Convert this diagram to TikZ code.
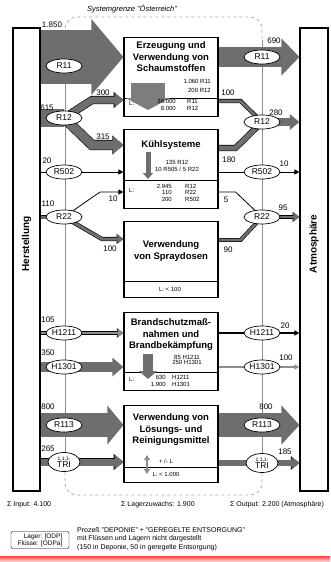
\documentclass[tikz,border=0pt]{standalone}
\usepackage{fontspec}
\setmainfont{Liberation Sans}
\usetikzlibrary{arrows.meta,shapes.geometric,backgrounds}
\definecolor{flowgray}{HTML}{6E6E6E}
\definecolor{linegray}{HTML}{8E8E8E}
\definecolor{dashgray}{HTML}{A8A8A8}

\begin{document}
\begin{tikzpicture}[x=1pt,y=-1pt,
    procbox/.style={draw, line width=1.1pt, minimum width=94pt, anchor=north, inner sep=0pt},
    sidebox/.style={draw, line width=1.1pt, minimum width=27pt, minimum height=463pt, inner sep=0pt},
    sidename/.style={rotate=90, font=\fontsize{10}{10}\selectfont\bfseries},
    subst/.style={ellipse, draw, fill=white, line width=0.7pt, minimum width=36pt, minimum height=14pt, inner sep=0pt, font=\fontsize{8.5}{9}\selectfont},
    boxtitle/.style={align=center, font=\fontsize{9.5}{11.5}\selectfont\bfseries},
    small/.style={font=\fontsize{6}{6.5}\selectfont, inner sep=0pt},
    flownum/.style={font=\fontsize{8}{8}\selectfont, inner sep=0pt},
    foottext/.style={font=\fontsize{7}{8.5}\selectfont, inner sep=0pt},
    stream/.style={draw=flowgray, line width=#1},
    rimstream/.style={preaction={draw=black, line width=#1+1.2pt}, draw=flowgray, line width=#1},
    wire/.style={draw=black, line width=0.8pt},
    flowtip/.style={-{Triangle[width=4pt 1.4, length=4pt 0.7]}},
    wiretip/.style={-{Triangle[width=5pt, length=5pt]}}]
  \useasboundingbox (0,0) rectangle (330,562);

  % Systemgrenze
  \node[font=\fontsize{7.5}{8}\selectfont\itshape] (sysname) at (132,9) {Systemgrenze "Österreich"};

  % Herstellung, Atmosphaere
  \node[sidebox] (herst) at (26.5,259.5) {};
  \node[sidebox, minimum width=28pt] (atmo) at (314,259.5) {};
  \node[sidename] (herstname) at (herst |- 0,244) {Herstellung};
  \node[sidename] (atmoname) at (atmo |- 0,244) {Atmosphäre};

  % Prozesse
  \node[procbox, minimum height=79pt] (erz) at (171,37) {};
  \node[procbox, minimum height=79pt] (kuehl) at (171,129) {};
  \node[procbox, minimum height=76pt] (spray) at (171,221) {};
  \node[procbox, minimum height=78pt] (brand) at (171,312) {};
  \node[procbox, minimum height=77pt] (loes) at (171,405) {};
  \draw[line width=0.8pt] (erz.west |- 0,98) -- (erz.east |- 0,98);
  \draw[line width=0.8pt] (kuehl.west |- 0,180) -- (kuehl.east |- 0,180);
  \draw[line width=0.8pt] (spray.west |- 0,281) -- (spray.east |- 0,281);
  \draw[line width=0.8pt] (brand.west |- 0,372) -- (brand.east |- 0,372);
  \draw[line width=0.8pt] (loes.west |- 0,467) -- (loes.east |- 0,467);

  \node[boxtitle] (erztitle) at (171,57) {Erzeugung und\\Verwendung von\\Schaumstoffen};
  \node[boxtitle] (kuehltitle) at (171,145) {Kühlsysteme};
  \node[boxtitle] (spraytitle) at (171,251) {Verwendung\\von Spraydosen};
  \node[boxtitle] (brandtitle) at (171,335) {Brandschutzmaß-\\nahmen und\\Brandbekämpfung};
  \node[boxtitle] (loestitle) at (171,430) {Verwendung von\\Lösungs- und\\Reinigungsmittel};

  % Lageraenderung
  \draw[stream=34pt, draw=flowgray!90, -{Triangle[width=44pt, length=12pt]}] (148,83) -- (148,110);
  \draw[stream=5pt, -{Triangle[width=10pt, length=6pt]}] (148,152) -- (148,179);
  \draw[stream=10pt, -{Triangle[width=18pt, length=8pt]}] (148,354) -- (148,379);
  \draw[linegray, line width=1.5pt, {Triangle[width=6pt, length=5pt]}-{Triangle[width=6pt, length=5pt]}] (147,455) -- (147,474);

  \node[small, anchor=east, align=right] (erzflow) at (211,86) {1.060 R11\\[2.5pt]200 R12};
  \node[small, anchor=west] (erzL) at (129,103) {L:};
  \node[small, anchor=east, align=right] (erzlagn) at (176,105) {36.000\\8.000};
  \node[small, anchor=west, align=left] (erzlags) at (187,105) {R11\\R12};

  \node[small, align=center] (kuehlflow) at (177,166) {135 R12\\10 R505 / 5 R22};
  \node[small, anchor=west] (kuehlL) at (129,190) {L:};
  \node[small, anchor=east, align=right] (kuehllagn) at (172,192.5) {2.945\\110\\200};
  \node[small, anchor=west, align=left] (kuehllags) at (185,192.5) {R12\\R22\\R502};

  \node[small] (sprayL) at (170,289) {L: < 100};

  \node[small, align=center, font=\fontsize{6}{5}\selectfont] (brandflow) at (187,360) {85 H1211\\250 H1301};
  \node[small, anchor=west] (brandL) at (129,379) {L:};
  \node[small, anchor=east, align=right] (brandlagn) at (166,381) {630\\1.900};
  \node[small, anchor=west, align=left] (brandlags) at (172,381) {H1211\\H1301};

  \node[small] (loesdelta) at (166,461) {+ /- L};
  \node[small] (loesL) at (166,474) {L: < 1.000};

  % Stoffe
  \node[subst] (r11a) at (64,66) {R11};
  \node[subst] (r12a) at (64,118) {R12};
  \node[subst] (r502a) at (64,172) {R502};
  \node[subst] (r22a) at (64,217) {R22};
  \node[subst] (h1211a) at (64,333) {H1211};
  \node[subst] (h1301a) at (64,367) {H1301};
  \node[subst] (r113a) at (64,425) {R113};
  \node[subst, minimum width=32pt, minimum height=19pt, align=center] (tria) at (64,462) {{\fontsize{5}{5}\selectfont 1,1,1-}\\[-2pt]TRI};
  \node[subst] (r11b) at (262,57) {R11};
  \node[subst] (r12b) at (262,122) {R12};
  \node[subst] (r502b) at (262,172) {R502};
  \node[subst] (r22b) at (262,217) {R22};
  \node[subst] (h1211b) at (262,333) {H1211};
  \node[subst] (h1301b) at (262,367) {H1301};
  \node[subst] (r113b) at (262,425) {R113};
  \node[subst, minimum width=32pt, minimum height=19pt, align=center] (trib) at (262,463) {{\fontsize{5}{5}\selectfont 1,1,1-}\\[-2pt]TRI};

  \begin{pgfonlayer}{background}
    \draw[linegray, line width=0.8pt] (65,40) -- (65,472);
    \draw[linegray, line width=0.8pt] (262,40) -- (262,472);
    \draw[dashgray, line width=0.8pt, dashed, rounded corners=12pt] (65,40) |- (262,17) -- (262,40);
    \draw[dashgray, line width=0.8pt, dashed, rounded corners=12pt] (65,472) |- (262,495) -- (262,472);

    % Zufluesse
    \draw[stream=54pt, -{Triangle[width=74pt, length=32pt]}] (herst.east |- 0,57) -- (erz.west |- 0,57);
    \draw[stream=18pt] (herst.east |- r12a) -- (r12a.center);
    \draw[rimstream=7pt, flowtip] (r12a.center) -- ++(28,-18) -- (erz.west |- 0,100);
    \draw[rimstream=9pt, flowtip] (r12a.center) -- ++(28,27) -- (kuehl.west |- 0,145);
    \draw[wire, wiretip] (herst.east |- r502a) -- (kuehl.west |- r502a);
    \draw[rimstream=3pt] (herst.east |- r22a) -- (r22a.center);
    \draw[wire, wiretip] (r22a.center) -- ++(36,-25) -- (kuehl.west |- 0,192);
    \draw[rimstream=3pt, flowtip] (r22a.center) -- ++(38,22) -- (spray.west |- 0,239);
    \draw[rimstream=2.5pt, draw=linegray, flowtip] (herst.east |- h1211a) -- (brand.west |- h1211a);
    \draw[stream=10pt, flowtip] (herst.east |- h1301a) -- (brand.west |- h1301a);
    \draw[stream=24pt, -{Triangle[width=38pt, length=16pt]}] (herst.east |- r113a) -- (loes.west |- r113a);
    \draw[rimstream=7pt, flowtip] (herst.east |- tria) -- (loes.west |- tria);

    % Abfluesse
    \draw[stream=20pt, -{Triangle[width=36pt, length=18pt]}] (erz.east |- r11b) -- (atmo.west |- r11b);
    \draw[rimstream=3pt] (erz.east |- 0,101) -- ++(22,0) -- (r12b.center);
    \draw[rimstream=5pt] (kuehl.east |- 0,148) -- ++(17,0) -- (r12b.center);
    \draw[stream=8pt, flowtip] (r12b.center) -- (atmo.west |- r12b);
    \draw[wire, wiretip] (kuehl.east |- r502b) -- (atmo.west |- r502b);
    \draw[wire] (kuehl.east |- 0,192) -- ++(17,0) -- (r22b.center);
    \draw[rimstream=2.7pt] (spray.east |- 0,240) -- ++(22,0) -- (r22b.center);
    \draw[rimstream=2.9pt, flowtip] (r22b.center) -- (atmo.west |- r22b);
    \draw[black, line width=1.6pt, wiretip] (brand.east |- h1211b) -- (atmo.west |- h1211b);
    \draw[linegray, line width=1.8pt, wiretip] (brand.east |- h1301b) -- (atmo.west |- h1301b);
    \draw[stream=24pt, -{Triangle[width=38pt, length=18pt]}] (loes.east |- r113b) -- (atmo.west |- r113b);
    \draw[rimstream=5.5pt, flowtip] (loes.east |- trib) -- (atmo.west |- trib);
  \end{pgfonlayer}

  % Flussmengen
  \node[flownum] (n1850) at (52,25) {1.850};
  \node[flownum] (n615) at (47,108) {615};
  \node[flownum] (n300) at (103,93) {300};
  \node[flownum] (n315) at (103,137) {315};
  \node[flownum] (n20a) at (47,161) {20};
  \node[flownum] (n110) at (48,204) {110};
  \node[flownum] (n10a) at (113,199) {10};
  \node[flownum] (n100a) at (110,249) {100};
  \node[flownum] (n105) at (48,320) {105};
  \node[flownum] (n350) at (48,353) {350};
  \node[flownum] (n800a) at (48,407) {800};
  \node[flownum] (n265) at (48,449) {265};
  \node[flownum] (n690) at (274,41) {690};
  \node[flownum] (n100b) at (228,93) {100};
  \node[flownum] (n280) at (276,113) {280};
  \node[flownum] (n180) at (229,160) {180};
  \node[flownum] (n10b) at (284,164) {10};
  \node[flownum] (n5) at (226,200) {5};
  \node[flownum] (n95) at (283,208) {95};
  \node[flownum] (n90) at (228,250) {90};
  \node[flownum] (n20b) at (285,326) {20};
  \node[flownum] (n100c) at (286,358) {100};
  \node[flownum] (n800b) at (266,407) {800};
  \node[flownum] (n185) at (285,452) {185};

  % Summen und Legende
  \node[foottext, anchor=west] (sumin) at (7,505) {Σ Input: 4.100};
  \node[foottext, anchor=west] (sumlag) at (121,505) {Σ Lagerzuwachs: 1.900};
  \node[foottext, anchor=west] (sumout) at (230,505) {Σ Output: 2.200 (Atmosphäre)};
  \node[draw, rounded corners=2pt, align=right, font=\fontsize{6.5}{7}\selectfont, minimum width=58pt, minimum height=17pt, inner sep=1pt] (legend) at (40,540) {Lager: [ODP]\\Flüsse: [ODPa]};
  \node[foottext, anchor=north west, align=left] (note) at (77,527) {Prozeß "DEPONIE" + "GEREGELTE ENTSORGUNG"\\mit Flüssen und Lagern nicht dargestellt\\(150 in Deponie, 50 in geregelte Entsorgung)};
  \shade[top color=red!75, bottom color=red!10] (0,556) rectangle (330,562);
\end{tikzpicture}
\end{document}
